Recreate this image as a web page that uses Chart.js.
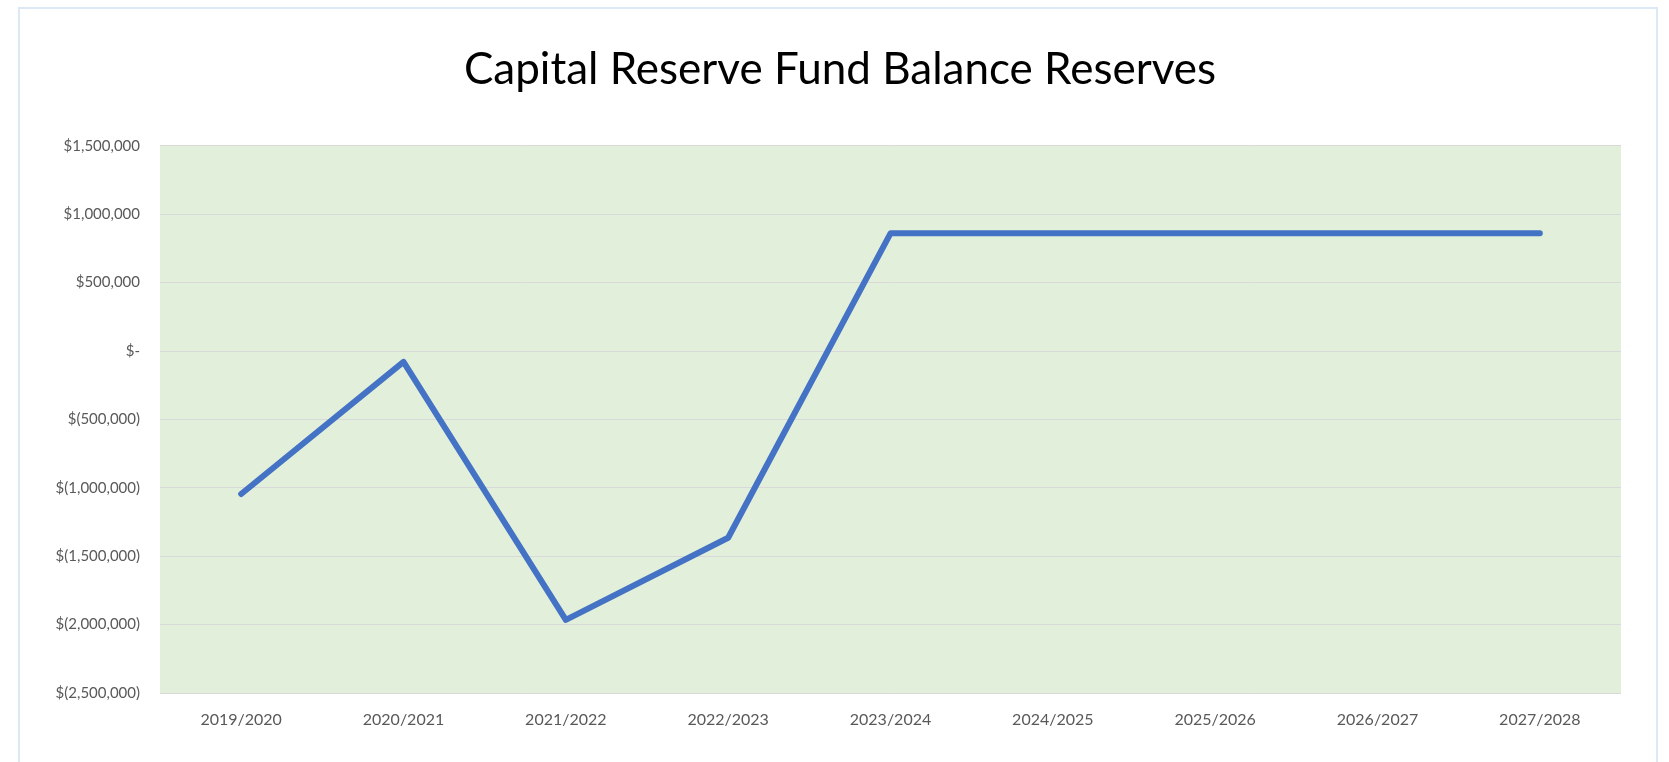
<!DOCTYPE html>
<html>
<head>
<meta charset="utf-8">
<script src="https://cdn.jsdelivr.net/npm/chart.js@4/dist/chart.umd.min.js"></script>
<style>
  html, body { margin: 0; padding: 0; background: #fff; }
  #wrap { width: 1669px; height: 762px; position: relative; }
</style>
</head>
<body>
<div id="wrap"><canvas id="reserveChart"></canvas></div>
<script>
const years = ['2019/2020', '2020/2021', '2021/2022', '2022/2023', '2023/2024',
               '2024/2025', '2025/2026', '2026/2027', '2027/2028'];
const balance = [-1045000, -80000, -1965000, -1365000, 860000, 860000, 860000, 860000, 860000];
const yTicks = [-2500000, -2000000, -1500000, -1000000, -500000, 0, 500000, 1000000, 1500000];

function money(v) {
    if (v === 0) return '$-';
    const s = Math.abs(v).toLocaleString('en-US');
    return v < 0 ? '$(' + s + ')' : '$' + s;
}

// frame around the whole chart + green plot area
const backdrop = {
    id: 'backdrop',
    afterLayout(chart) {
        // title in the original sits a bit right of the canvas centre
        if (chart.titleBlock) chart.titleBlock.left += 59;
    },
    beforeDraw(chart) {
        const c = chart.ctx, a = chart.chartArea;
        c.save();
        c.strokeStyle = '#dce8f6';
        c.lineWidth = 2;
        c.strokeRect(19, 8, 1638, 770);
        c.fillStyle = '#e2efda';
        c.fillRect(a.left, a.top, a.right - a.left, a.bottom - a.top);
        c.restore();
    }
};

const ctx = document.getElementById('reserveChart').getContext('2d');
new Chart(ctx, {
    type: 'line',
    data: {
        labels: years,
        datasets: [{
            label: 'Balance',
            data: balance,
            borderColor: '#4472c4',
            borderWidth: 6,
            pointRadius: 0,
            tension: 0,
            borderCapStyle: 'round',
            borderJoinStyle: 'round'
        }]
    },
    options: {
        responsive: true,
        maintainAspectRatio: false,
        animation: false,
        layout: { padding: { left: 0, right: 48, top: 0, bottom: 0 } },
        plugins: {
            legend: { display: false },
            tooltip: { enabled: false },
            title: {
                display: true,
                text: 'Capital Reserve Fund Balance Reserves',
                color: '#000',
                font: { family: 'Lato', size: 44, weight: 'normal' },
                padding: { top: 43, bottom: 50 }
            }
        },
        scales: {
            x: {
                offset: true,
                grid: { display: false, drawTicks: false },
                border: { display: false },
                ticks: { color: '#595959', font: { family: 'Lato', size: 16 }, padding: 17, maxRotation: 0 },
                afterFit(s) { s.height = 69; }
            },
            y: {
                min: -2500000,
                max: 1500000,
                afterBuildTicks(s) { s.ticks = yTicks.map(v => ({ value: v })); },
                grid: { color: '#d9d9d9', lineWidth: 1, drawTicks: false },
                border: { display: false },
                ticks: { color: '#595959', font: { family: 'Lato', size: 15 }, padding: 20, callback: v => money(v) },
                afterFit(s) { s.width = 160; }
            }
        }
    },
    plugins: [backdrop]
});
</script>
</body>
</html>
